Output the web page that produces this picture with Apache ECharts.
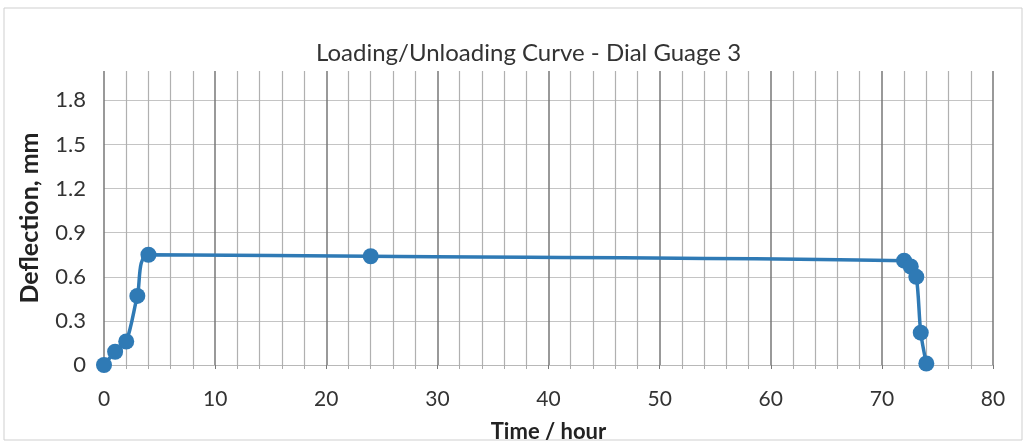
<!DOCTYPE html>
<html>
<head>
<meta charset="utf-8">
<script src="https://cdn.jsdelivr.net/npm/echarts@6/dist/echarts.min.js"></script>
<style>
html,body{margin:0;padding:0;background:#fff;}
#c{width:1029px;height:448px;}
</style>
</head>
<body>
<div id="c"></div>
<script>
// Data
var timeHours = [0, 1, 2, 3, 4, 24, 72, 72.6, 73.1, 73.5, 74];
var deflectionMm = [0, 0.09, 0.16, 0.47, 0.75, 0.74, 0.71, 0.67, 0.60, 0.22, 0.01];
var titleText = 'Loading/Unloading Curve - Dial Guage 3';
var xName = 'Time / hour';
var yName = 'Deflection, mm';

var points = timeHours.map(function (t, i) { return [t, deflectionMm[i]]; });
var FONT = 'Lato';
var chart = echarts.init(document.getElementById('c'), null, {renderer: 'canvas'});
chart.setOption({
  backgroundColor: '#ffffff',
  animation: false,
  title: {
    text: titleText,
    left: 311, top: 36,
    textStyle: {fontFamily: FONT, fontSize: 24, fontWeight: 'normal', color: '#333333'}
  },
  graphic: [{
    type: 'rect', shape: {x: 4, y: 8, width: 1018, height: 432},
    style: {fill: 'none', stroke: '#cfcfcf', lineWidth: 1}, silent: true, z: -1
  }],
  grid: {left: 104, right: 36, top: 71, bottom: 80, containLabel: false},
  xAxis: {
    type: 'value', min: 0, max: 80, interval: 10,
    name: xName, nameLocation: 'middle', nameGap: 56,
    nameTextStyle: {fontFamily: FONT, fontSize: 22, fontWeight: 'bold', color: '#222'},
    axisLine: {show: true, lineStyle: {color: '#b8b8b8', width: 1}},
    axisTick: {show: true, length: 4, lineStyle: {color: '#777'}},
    minorTick: {show: true, splitNumber: 5, length: 4, lineStyle: {color: '#aaa'}},
    axisLabel: {fontFamily: FONT, fontSize: 21, color: '#333', margin: 24},
    splitLine: {show: true, lineStyle: {color: '#777777', width: 1.5}},
    minorSplitLine: {show: true, lineStyle: {color: '#b0b0b0', width: 1.2}}
  },
  yAxis: {
    type: 'value', min: 0, max: 2.0, interval: 0.3,
    name: yName, nameLocation: 'middle', nameGap: 62, nameRotate: 90,
    nameTextStyle: {fontFamily: FONT, fontSize: 25, fontWeight: 'bold', color: '#222'},
    axisLine: {show: false},
    axisTick: {show: false},
    axisLabel: {fontFamily: FONT, fontSize: 22, color: '#333', margin: 18, showMaxLabel: false,
      formatter: function (v) { return Math.abs(v - 2.0) < 1e-9 ? '' : (v === 0 ? '0' : v.toFixed(1)); }},
    splitLine: {show: true, showMaxLine: false, lineStyle: {color: '#c4c4c4', width: 1.2}}
  },
  series: [{
    type: 'line',
    data: points,
    smooth: 0.3,
    symbol: 'circle',
    symbolSize: 16,
    lineStyle: {color: '#2f7ab5', width: 3.5},
    itemStyle: {color: '#2f7ab5'},
    z: 5
  }]
});
</script>
</body>
</html>
